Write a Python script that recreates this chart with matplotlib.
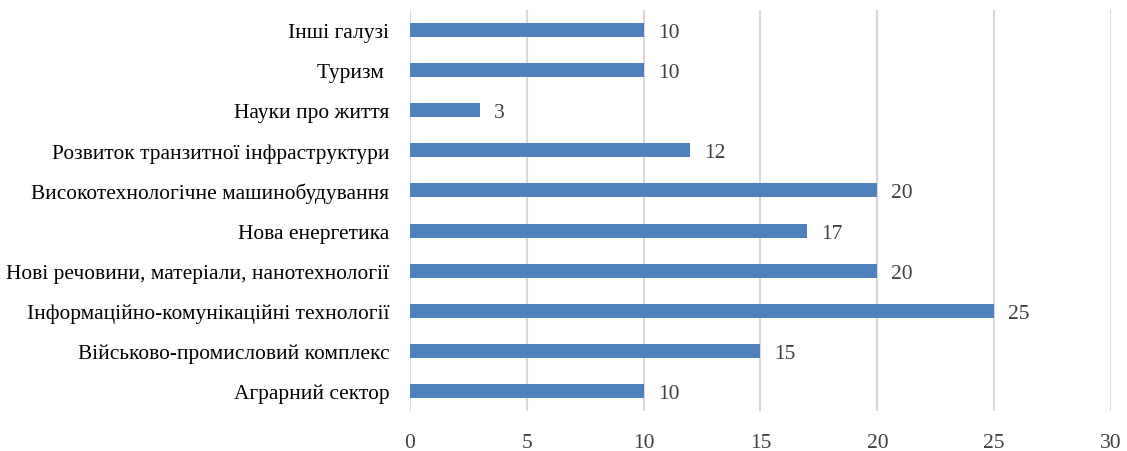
import matplotlib.pyplot as plt

plt.rcParams['font.family'] = ['Liberation Serif', 'DejaVu Serif']

galuzi = ['Аграрний сектор', 'Військово-промисловий комплекс',
          'Інформаційно-комунікаційні технології',
          'Нові речовини, матеріали, нанотехнології', 'Нова енергетика',
          'Високотехнологічне машинобудування',
          'Розвиток транзитної інфраструктури', 'Науки про життя',
          'Туризм ', 'Інші галузі']
znachennia = [10, 15, 25, 20, 17, 20, 12, 3, 10, 10]
tiky = [0, 5, 10, 15, 20, 25, 30]

fig = plt.figure(figsize=(11.27, 4.52), dpi=100)
ax = fig.add_axes([0.3638, 0.0885, 0.622, 0.8872])

poz = range(len(galuzi))
ax.barh(poz, znachennia, height=0.35, color='#4F81BD', zorder=3)
for y, v in zip(poz, znachennia):
    ax.text(v + 0.6, y, str(v), va='center_baseline', ha='left',
            fontsize=15.5, color='#404040')

ax.set_xlim(0, 30)
ax.set_ylim(-0.5, len(galuzi) - 0.5)
ax.set_xticks(tiky)
ax.set_xticklabels([str(t) for t in tiky], fontsize=15.5, color='#404040')
ax.set_yticks(list(poz))
ax.set_yticklabels(galuzi, fontsize=15.4, color='#000000')
ax.tick_params(axis='both', length=0)
ax.tick_params(axis='x', pad=16)
ax.tick_params(axis='y', pad=15)
ax.grid(axis='x', color='#D9D9D9', linewidth=1.5, zorder=0)
for s in ax.spines.values():
    s.set_visible(False)

fig.savefig('out.png', dpi=100)
